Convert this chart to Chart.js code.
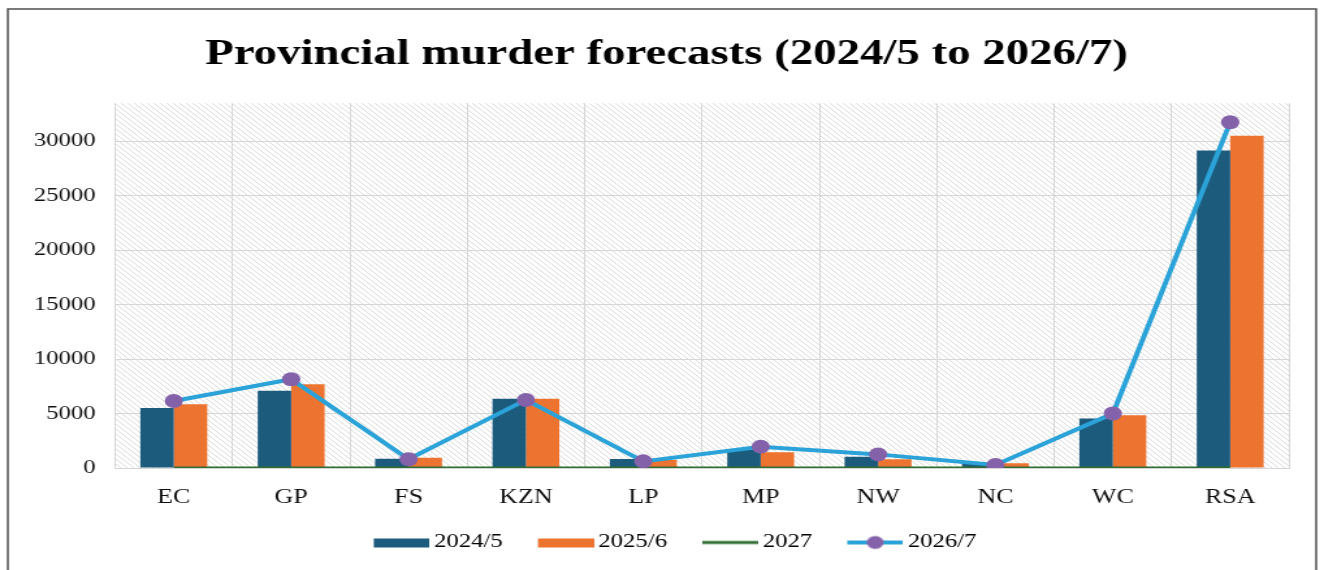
<!DOCTYPE html>
<html>
<head>
<meta charset="utf-8">
<title>Provincial murder forecasts</title>
<script src="https://cdn.jsdelivr.net/npm/chart.js@4/dist/chart.umd.min.js"></script>
<style>
    html, body { margin: 0; padding: 0; background: #fff; overflow: hidden; }
    /* the original picture is stretched sideways (~1.3x), so draw narrow and stretch */
    #chart { display: block; width: 1324px; height: 570px; }
</style>
</head>
<body>
<canvas id="chart" width="1018" height="570" style="width:1324px;height:570px"></canvas>
<script>
// ─── Data ───────────────────────────────────────────────────
const provinces = ['EC', 'GP', 'FS', 'KZN', 'LP', 'MP', 'NW', 'NC', 'WC', 'RSA'];
const forecast2024 = [5500, 7100, 850, 6350, 830, 1710, 1040, 490, 4550, 29150];
const forecast2025 = [5850, 7700, 950, 6350, 730, 1440, 800, 430, 4850, 30500];
const forecast2027 = [0, 0, 0, 0, 0, 0, 0, 0, 0, 0];
const forecast2026 = [6150, 8150, 800, 6250, 610, 1960, 1250, 275, 5000, 31750];
const yTicks = [0, 5000, 10000, 15000, 20000, 25000, 30000];

const SERIF = '"Liberation Serif", "Times New Roman", serif';

// ─── Helpers ────────────────────────────────────────────────

function hatchPattern(ctx) {
    const tile = document.createElement('canvas');
    tile.width = 5; tile.height = 5;
    const t = tile.getContext('2d');
    t.fillStyle = '#ffffff';
    t.fillRect(0, 0, 5, 5);
    t.strokeStyle = '#dcdcdc';
    t.lineWidth = 1;
    t.beginPath();
    t.moveTo(-1, -1); t.lineTo(6, 6);
    t.moveTo(-4, 1); t.lineTo(4, 9);
    t.moveTo(1, -4); t.lineTo(9, 4);
    t.stroke();
    return ctx.createPattern(tile, 'repeat');
}

// legend swatch: 56px image, mark drawn on its right 43px so it sits close to its text
function swatch(kind, color, marker) {
    const c = document.createElement('canvas');
    c.width = 56; c.height = 16;
    const g = c.getContext('2d');
    if (kind === 'bar') {
        g.fillStyle = color;
        g.fillRect(13, 4, 43, 9);
    } else {
        g.strokeStyle = color;
        g.lineWidth = kind === 'thin' ? 3 : 4;
        g.beginPath(); g.moveTo(13, 8); g.lineTo(56, 8); g.stroke();
        if (marker) {
            g.fillStyle = marker;
            g.beginPath(); g.arc(34.5, 8, 6.5, 0, Math.PI * 2); g.fill();
        }
    }
    return c;
}

const framePlugin = {
    id: 'frame',
    beforeDraw(chart) {
        const { ctx, chartArea: a } = chart;
        ctx.save();
        ctx.fillStyle = hatchPattern(ctx);
        ctx.fillRect(a.left, a.top, a.right - a.left, a.bottom - a.top);
        ctx.strokeStyle = '#5a5a5a';
        ctx.lineWidth = 1.6;
        ctx.strokeRect(6, 9, 1006, 580);
        ctx.restore();
    }
};

// nudge the title and legend a bit right, like the original
const boxShift = {
    id: 'boxShift',
    afterLayout(chart) {
        if (chart.legend) {
            chart.legend.left += 16;
            chart.legend.right += 16;
        }
        if (chart.titleBlock) {
            chart.titleBlock.left += 13;
            chart.titleBlock.right += 13;
        }
    }
};

// ─── Chart ──────────────────────────────────────────────────

const swatches = [
    swatch('bar', '#1c5b7c'),
    swatch('bar', '#ec7430'),
    swatch('thin', '#2f6d32'),
    swatch('line', '#2ba3d8', '#8462aa'),
];

new Chart(document.getElementById('chart'), {
    type: 'bar',
    data: {
        labels: provinces,
        datasets: [
            { label: '2024/5', data: forecast2024, backgroundColor: '#1c5b7c', order: 3 },
            { label: '2025/6', data: forecast2025, backgroundColor: '#ec7430', order: 3 },
            {
                type: 'line', label: '2027', data: forecast2027,
                borderColor: '#2f6d32', borderWidth: 3, pointRadius: 0, order: 1,
            },
            {
                type: 'line', label: '2026/7', data: forecast2026,
                borderColor: '#2ba3d8', borderWidth: 4, tension: 0,
                pointRadius: 7, pointBackgroundColor: '#8462aa', pointBorderWidth: 0, order: 0,
            },
        ],
    },
    options: {
        responsive: false,
        animation: false,
        categoryPercentage: 0.57,
        barPercentage: 1.0,
        layout: { padding: { left: 8, right: 27, top: 10, bottom: 8 } },
        plugins: {
            title: {
                display: true,
                text: 'Provincial murder forecasts (2024/5 to 2026/7)',
                color: '#000',
                font: { family: SERIF, size: 36, weight: 'bold' },
                padding: { top: 23, bottom: 27 },
            },
            legend: {
                position: 'bottom',
                labels: {
                    usePointStyle: true,
                    pointStyleWidth: 44,
                    padding: 20,
                    color: '#222',
                    font: { family: SERIF, size: 19 },
                    generateLabels(chart) {
                        return chart.data.datasets.map((ds, i) => ({
                            text: ds.label,
                            pointStyle: swatches[i],
                            fillStyle: 'transparent',
                            strokeStyle: 'transparent',
                            lineWidth: 0,
                            datasetIndex: i,
                            hidden: false,
                        }));
                    },
                },
            },
            tooltip: { enabled: false },
        },
        scales: {
            x: {
                afterFit(scale) { scale.height = 45; },
                grid: { color: '#d6d6d6', drawTicks: false, offset: true },
                border: { color: '#d6d6d6' },
                ticks: { color: '#111', padding: 18, font: { family: SERIF, size: 20 } },
            },
            y: {
                min: 0,
                max: 33500,
                afterBuildTicks(scale) {
                    scale.ticks = yTicks.map(v => ({ value: v }));
                },
                afterFit(scale) { scale.width = 80.5; },
                grid: { color: '#d6d6d6', drawTicks: false },
                border: { color: '#d6d6d6' },
                ticks: {
                    color: '#111', padding: 15,
                    font: { family: SERIF, size: 19 },
                    callback: v => String(v),
                },
            },
        },
    },
    plugins: [framePlugin, boxShift],
});
</script>
</body>
</html>
